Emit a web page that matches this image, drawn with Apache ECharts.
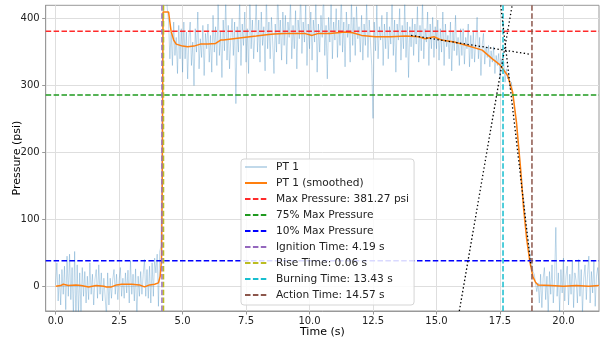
<!DOCTYPE html>
<html><head><meta charset="utf-8">
<script src="https://cdn.jsdelivr.net/npm/echarts@6/dist/echarts.min.js"></script>
<style>html,body{margin:0;padding:0;background:#fff}#c{width:609px;height:341px}</style>
</head><body><div id="c"></div>
<script>
// ---- data ----
const rawStep = 0.05;
const rawPreStart = 0.0;
const rawPre = [
  2, 35, -22, 18, -28, 25, -12, 30, -35, 45, -15, 48, -20, 28, -45, 52, -50, 32, -42, 20,
  -38, 28, -15, 22, -25, 15, -20, 35, -12, 18, -28, 10, 25, -18, 32, -12, 20, -22, 12, -15,
  -45, 20, -28, 12, -18, 10, 25, -12, 18, -20, 8, 28, -15, 12, -18, 20, -10, 24, -25, 38,
  -12, 18, -22, 26, -50, 15, -15, 22, -12, 18, 40, -15, 25, -18, 30, -25, 35, -15, 42, 20,
  48, -30, 52, 60
];
const rawBurnStart = 4.20;
const rawBurn = [
  250, 430, 460, 440, 415, 395, 340, 380, 330, 395, 345, 372, 318, 390, 340, 385,
  320, 395, 340, 380, 310, 372, 395, 330, 365, 300, 385, 350, 410, 325, 370, 342, 390, 315, 378, 355,
  392, 335, 375, 320, 405, 350, 388, 330, 425, 345, 380, 312, 398, 352, 430, 338, 390, 325, 372, 400,
  345, 395, 273, 388, 350, 430, 330, 392, 360, 410, 335, 385, 318, 440, 355, 398, 340, 378, 425, 350,
  398, 335, 410, 360, 388, 322, 435, 355, 395, 340, 402, 365, 318, 392, 350, 445, 362, 398, 338, 410,
  360, 405, 332, 395, 372, 428, 340, 390, 355, 412, 325, 398, 370, 440, 348, 395, 365, 420, 330, 392,
  355, 410, 338, 398, 365, 430, 320, 392, 350, 405, 372, 445, 345, 390, 310, 402, 365, 425, 340, 395,
  368, 415, 342, 398, 360, 438, 350, 395, 328, 410, 372, 392, 335, 428, 360, 402, 345, 418, 370, 388,
  350, 405, 338, 392, 360, 425, 342, 398, 365, 330, 251, 395, 352, 420, 340, 388, 368, 405, 330, 392,
  355, 410, 340, 388, 362, 432, 345, 398, 320, 392, 368, 415, 338, 390, 355, 425, 342, 395, 312, 388,
  358, 400, 345, 392, 362, 418, 335, 390, 352, 428, 340, 385, 365, 410, 330, 392, 355, 402, 342, 388,
  355, 398, 338, 385, 350, 410, 330, 392, 358, 375, 340, 395, 322, 380, 352, 405, 345, 372, 330, 385,
  345, 385, 332, 372, 355, 392, 328, 375, 340, 380, 335, 368, 402, 340, 372, 315, 360, 378, 332, 358,
  342, 360, 328, 352, 335, 358, 318, 345, 330, 348, 312, 340, 325, 335, 305, 325, 310, 318, 295, 305,
  285, 275, 255, 245, 218, 205, 178, 165, 138, 125, 98, 88, 68, 60, 42, 35, 22, 18, 5, -8
];
const rawPostStart = 19.0;
const rawPost = [
  5, -25, 18, -32, 12, 28, -20, 15, -42, 22, -12, 32, -25, 10, 88, -15, 20, -38, 25, -10,
  42, -22, 15, 30, -28, 18, -12, 38, -32, 20, 8, -25, 40, -15, 25, -40, 12, 32, -20, 18,
  45, -25, 22, -10, 38, -30, 15, 28, 2
];
const smoothTime = [0, 0.2, 0.3, 0.5, 0.8, 1.0, 1.3, 1.6, 1.9, 2.0, 2.2, 2.4, 2.6, 3.0, 3.3, 3.5, 3.7, 3.9, 4.05, 4.12, 4.17, 4.2, 4.23, 4.45, 4.5, 4.55, 4.65, 4.75, 5.0, 5.2, 5.45, 5.7, 6.0, 6.3, 6.5, 6.6, 7.0, 7.4, 7.9, 8.3, 8.6, 9.0, 9.4, 9.8, 10.1, 10.35, 10.8, 11.4, 11.7, 12.05, 12.6, 13.2, 13.8, 14.3, 14.55, 14.9, 15.2, 15.7, 16.2, 16.8, 17.2, 17.5, 17.8, 18.0, 18.15, 18.3, 18.42, 18.55, 18.68, 18.8, 18.9, 19.0, 19.5, 20.0, 20.5, 21.0, 21.4];
const smoothValues = [0, 1, 3, 1, 2, 1, -1, 1, 0, -1, -1, 2, 3, 3, 2, -1, 2, 3, 5, 15, 40, 150, 410, 410, 395, 381, 368, 362, 359, 358, 359, 362, 362, 363, 368, 368, 370, 372, 374, 376, 377, 378, 378, 378, 375, 378, 378, 380, 379, 375, 373, 373, 374, 373, 370, 373, 368, 365, 360, 353, 340, 331, 315, 290, 245, 181, 121, 71, 36, 14, 6, 2, 1, 0, 1, 0, 1];
const maxPressure = 381.27;
const pressure75 = 285.95;
const pressure10 = 38.13;
const ignitionTime = 4.19;
const riseTime = 0.06;
const burningTime = 13.43;
const actionTime = 14.57;
const tangentPlateau = [[14.0, 375], [18.72, 346.6]];
const tangentRise = [[15.9, -37], [17.98, 420]];
const tangentFall = [[17.53, 420], [18.72, 30]];
const xTicks = [0, 2.5, 5, 7.5, 10, 12.5, 15, 17.5, 20];
const yTicks = [0, 100, 200, 300, 400];
const xRange = [-0.39, 21.4];
const yRange = [-37, 420];

// ---- build ----
const seg = (arr, start) => arr.map((v, i) => [+(start + i * rawStep).toFixed(3), v]);
const rawData = seg(rawPre, rawPreStart).concat(seg(rawBurn, rawBurnStart), seg(rawPost, rawPostStart));
const smoothData = smoothTime.map((t, i) => [t, smoothValues[i]]);
const dash = [5.5, 2.4];
const hLine = (name, y, color) => ({ name, type: 'line', data: [[xRange[0], y], [xRange[1], y]], symbol: 'none', silent: true,
  lineStyle: { color, width: 1.5, type: dash }, itemStyle: { color }, z: 3 });
const vLine = (name, x, color) => ({ name, type: 'line', data: [[x, yRange[0]], [x, yRange[1]]], symbol: 'none', silent: true,
  lineStyle: { color, width: 1.5, type: dash }, itemStyle: { color }, z: 3 });
const dotLine = (d) => ({ type: 'line', data: d, symbol: 'none', silent: true,
  lineStyle: { color: '#000', width: 1.3, type: [1.4, 2.4] }, z: 4 });

const names = ['PT 1', 'PT 1 (smoothed)', 'Max Pressure: ' + maxPressure.toFixed(2) + ' psi', '75% Max Pressure', '10% Max Pressure',
  'Ignition Time: ' + ignitionTime.toFixed(2) + ' s', 'Rise Time: ' + riseTime.toFixed(2) + ' s',
  'Burning Time: ' + burningTime.toFixed(2) + ' s', 'Action Time: ' + actionTime.toFixed(2) + ' s'];

const font = 'DejaVu Sans';
const chart = echarts.init(document.getElementById('c'), null, { renderer: 'canvas' });
chart.setOption({
  animation: false,
  backgroundColor: '#fff',
  textStyle: { fontFamily: font },
  grid: { left: 45.7, right: 10, top: 5.3, bottom: 30, containLabel: false, outerBoundsMode: 'none',
    show: true, borderColor: '#999', borderWidth: 1 },
  xAxis: {
    type: 'value', min: xRange[0], max: xRange[1],
    name: 'Time (s)', nameLocation: 'middle', nameGap: 16, nameMoveOverlap: false,
    nameTextStyle: { fontFamily: font, fontSize: 11, color: '#000' },
    axisLine: { show: true, onZero: false, lineStyle: { color: '#999' } },
    axisTick: { show: true, customValues: xTicks, length: 3.5, lineStyle: { color: '#999' } },
    axisLabel: { customValues: xTicks, formatter: v => v.toFixed(1), fontFamily: font, fontSize: 10, color: '#222', margin: 5 },
    splitLine: { show: true, lineStyle: { color: '#dedede', width: 1 } }
  },
  yAxis: {
    type: 'value', min: yRange[0], max: yRange[1],
    name: 'Pressure (psi)', nameLocation: 'middle', nameGap: 23, nameRotate: 90, nameMoveOverlap: false,
    nameTextStyle: { fontFamily: font, fontSize: 11, color: '#000' },
    axisLine: { show: true, onZero: false, lineStyle: { color: '#999' } },
    axisTick: { show: true, customValues: yTicks, length: 3.5, lineStyle: { color: '#999' } },
    axisLabel: { customValues: yTicks, fontFamily: font, fontSize: 10, color: '#222', margin: 6 },
    splitLine: { show: true, lineStyle: { color: '#dedede', width: 1 } }
  },
  legend: {
    data: names, orient: 'vertical', left: 241, top: 159,
    itemWidth: 22, itemHeight: 12, itemGap: 4,
    padding: [2, 5, 4, 3],
    itemStyle: { opacity: 0 },
    backgroundColor: 'rgba(255,255,255,0.85)', borderColor: '#d5d5d5', borderWidth: 1, borderRadius: 3,
    textStyle: { fontFamily: font, fontSize: 10.6, color: '#222', lineHeight: 12, padding: [0, 0, 0, 4] },
    selectedMode: false, z: 10
  },
  series: [
    { name: names[0], type: 'line', data: rawData, symbol: 'none', lineStyle: { color: 'rgba(31,119,180,0.28)', width: 1 }, itemStyle: { color: 'rgba(31,119,180,0.28)' }, z: 1 },
    { name: names[1], type: 'line', data: smoothData, symbol: 'none', lineStyle: { color: '#ff7f0e', width: 1.5 }, itemStyle: { color: '#ff7f0e' }, z: 2 },
    hLine(names[2], maxPressure, '#ff2a2a'),
    hLine(names[3], pressure75, '#1f9a1f'),
    hLine(names[4], pressure10, '#0000ff'),
    vLine(names[5], ignitionTime, '#9467bd'),
    vLine(names[6], ignitionTime + riseTime, '#bcbd22'),
    vLine(names[7], ignitionTime + burningTime, '#17becf'),
    vLine(names[8], ignitionTime + actionTime, '#8c564b'),
    dotLine(tangentPlateau), dotLine(tangentRise), dotLine(tangentFall)
  ]
});
</script></body></html>
